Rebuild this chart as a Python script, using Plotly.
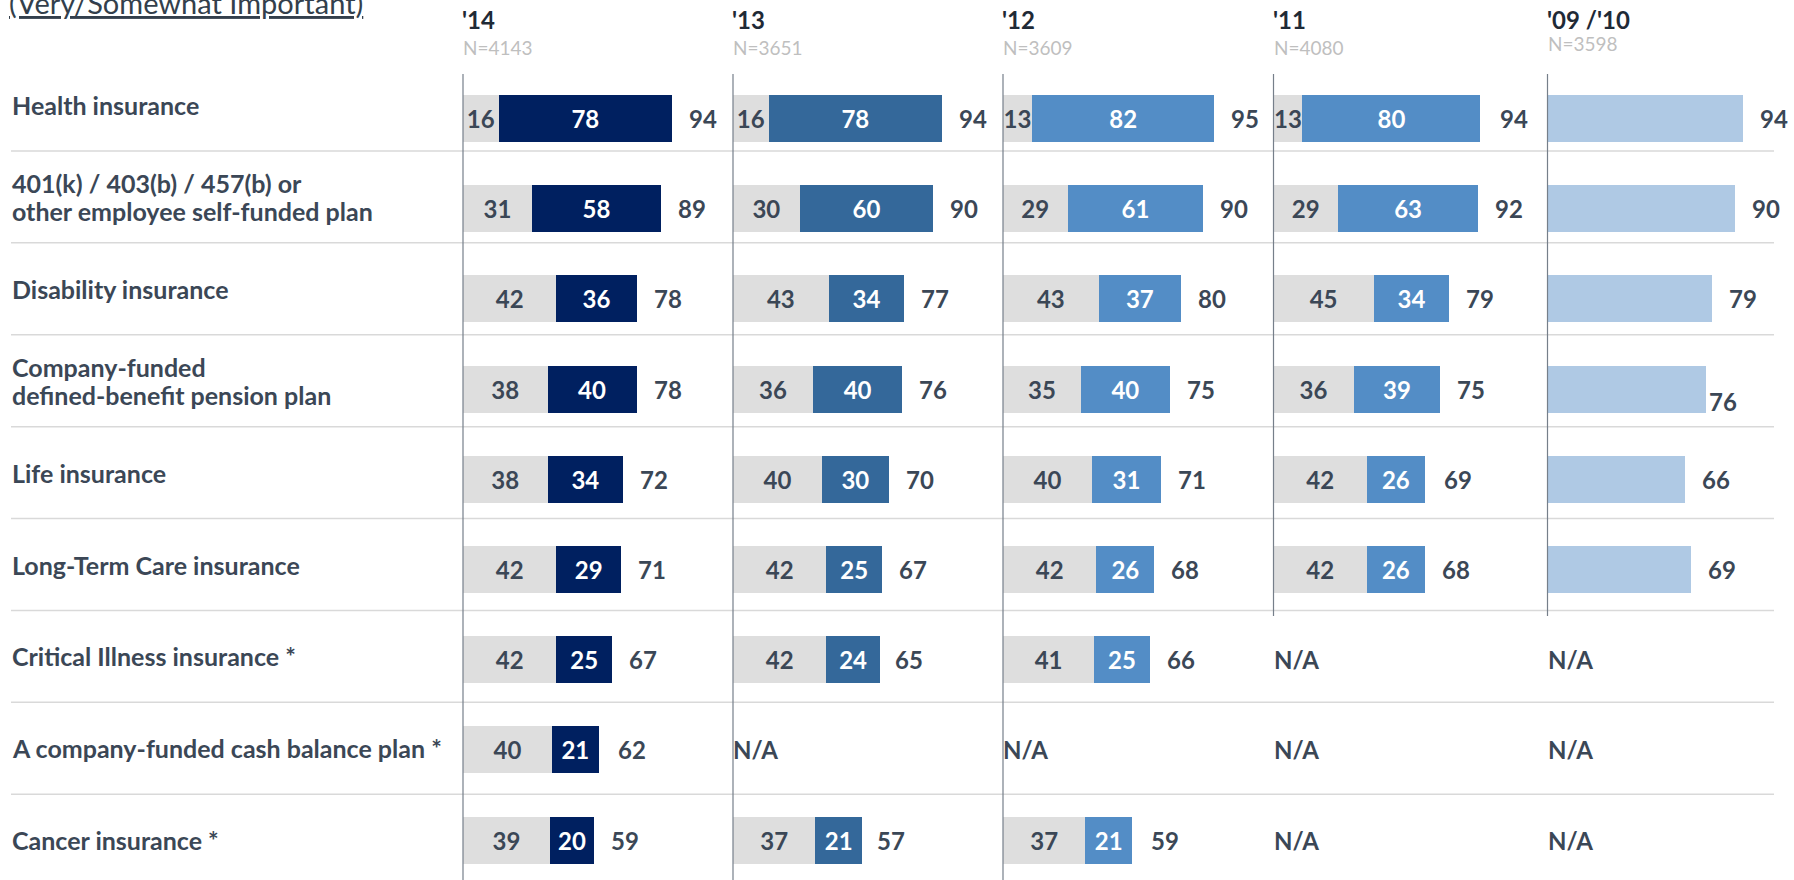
import plotly.graph_objects as go

# Importancia de beneficios por año (Somewhat + Very important)
CATEGORIAS = [
    "Health insurance",
    "401(k) / 403(b) / 457(b) or<br>other employee self-funded plan",
    "Disability insurance",
    "Company-funded<br>defined-benefit pension plan",
    "Life insurance",
    "Long-Term Care insurance",
    "Critical Illness insurance *",
    "A company-funded cash balance plan *",
    "Cancer insurance *",
]

ANIOS = ["'14", "'13", "'12", "'11", "'09 /'10"]
MUESTRAS = ["N=4143", "N=3651", "N=3609", "N=4080", "N=3598"]

SOMEWHAT_14 = [16, 31, 42, 38, 38, 42, 42, 40, 39]
VERY_14 = [78, 58, 36, 40, 34, 29, 25, 21, 20]
TOTAL_14 = [94, 89, 78, 78, 72, 71, 67, 62, 59]

SOMEWHAT_13 = [16, 30, 43, 36, 40, 42, 42, None, 37]
VERY_13 = [78, 60, 34, 40, 30, 25, 24, None, 21]
TOTAL_13 = [94, 90, 77, 76, 70, 67, 65, None, 57]

SOMEWHAT_12 = [13, 29, 43, 35, 40, 42, 41, None, 37]
VERY_12 = [82, 61, 37, 40, 31, 26, 25, None, 21]
TOTAL_12 = [95, 90, 80, 75, 71, 68, 66, None, 59]

SOMEWHAT_11 = [13, 29, 45, 36, 42, 42, None, None, None]
VERY_11 = [80, 63, 34, 39, 26, 26, None, None, None]
TOTAL_11 = [94, 92, 79, 75, 69, 68, None, None, None]

TOTAL_0910 = [94, 90, 79, 76, 66, 69, None, None, None]

PANELES = [
    (SOMEWHAT_14, VERY_14, TOTAL_14),
    (SOMEWHAT_13, VERY_13, TOTAL_13),
    (SOMEWHAT_12, VERY_12, TOTAL_12),
    (SOMEWHAT_11, VERY_11, TOTAL_11),
    (None, None, TOTAL_0910),
]

# --- estilo / geometría (px sobre un lienzo de 1794x880) ---
W, H = 1794, 880
FUENTE = "Lato"
C_TEXTO = "#3B4756"
C_GRIS = "#DEDEDE"
C_PANEL = ["#002060", "#34689A", "#538DC6", "#538DC6", "#AFC9E4"]
PANEL_X = [463, 733, 1003, 1273.5, 1547.5]
PANEL_ANCHO = [270, 270, 270, 274, 246.5]
PX_POR_UNIDAD = [2.225, 2.225, 2.225, 2.225, 2.085]
INTERLINEA = 28  # px entre líneas de las etiquetas de dos renglones

# eje de barras: fila 0 centrada en 118.5px, paso 90.2px
BAR_Y0, BAR_PASO = 118.5, 90.2
# eje de la tabla (etiquetas y separadores): fila 0 en 105px, paso 91.9px
TAB_Y0, TAB_PASO = 105, 91.9


def px_a_paper_x(px):
    return px / W


def px_a_paper_y(px):
    return 1 - px / H


filas = list(range(len(CATEGORIAS)))
fig = go.Figure()
anotaciones = []
formas = []

for i, (somewhat, very, total) in enumerate(PANELES):
    eje = "x" if i == 0 else f"x{i + 1}"
    if somewhat is not None:
        fig.add_trace(go.Bar(
            y=filas, x=somewhat, orientation="h", width=0.52,
            marker=dict(color=C_GRIS, line=dict(width=0)),
            text=[("" if v is None else str(v)) for v in somewhat],
            texttemplate="<b>%{text}</b>", textposition="inside",
            insidetextanchor="middle", constraintext="none",
            textfont=dict(family=FUENTE, size=24, color=C_TEXTO),
            xaxis=eje, yaxis="y", hoverinfo="skip",
        ))
        fig.add_trace(go.Bar(
            y=filas, x=very, orientation="h", width=0.52,
            marker=dict(color=C_PANEL[i], line=dict(width=0)),
            text=[("" if v is None else str(v)) for v in very],
            texttemplate="<b>%{text}</b>", textposition="inside",
            insidetextanchor="middle", constraintext="none",
            textfont=dict(family=FUENTE, size=24, color="white"),
            xaxis=eje, yaxis="y", hoverinfo="skip",
        ))
    else:
        fig.add_trace(go.Bar(
            y=filas, x=total, orientation="h", width=0.52,
            marker=dict(color=C_PANEL[i], line=dict(width=0)),
            xaxis=eje, yaxis="y", hoverinfo="skip",
        ))

    # totales a la derecha de la barra, o N/A si no hay dato
    for fila, t in zip(filas, total):
        if t is None:
            anotaciones.append(dict(
                x=0, y=fila, xref=eje, yref="y", text="<b>N/A</b>",
                showarrow=False, xanchor="left", xshift=-2,
                font=dict(family=FUENTE, size=24, color=C_TEXTO),
            ))
        else:
            # en el original el "76" de '09/'10 quedó pegado a la barra y más abajo
            raro = (i == 4 and fila == 3)
            anotaciones.append(dict(
                x=t, y=fila, xref=eje, yref="y", text=f"<b>{t}</b>",
                showarrow=False, xanchor="left",
                xshift=1 if raro else 15, yshift=-12 if raro else 0,
                font=dict(family=FUENTE, size=24, color=C_TEXTO),
            ))

    # encabezado del año + tamaño de muestra
    arriba = 19.5 if i == 4 else 20
    anotaciones.append(dict(
        x=px_a_paper_x(PANEL_X[i]), y=px_a_paper_y(arriba), xref="paper", yref="paper",
        text=f"<b>{ANIOS[i]}</b>", showarrow=False, xanchor="left", yanchor="middle",
        xshift=-3, font=dict(family=FUENTE, size=24, color="#1F2A36"),
    ))
    anotaciones.append(dict(
        x=px_a_paper_x(PANEL_X[i]), y=px_a_paper_y(43.5 if i == 4 else 47), xref="paper", yref="paper",
        text=MUESTRAS[i], showarrow=False, xanchor="left", yanchor="middle",
        xshift=-2, font=dict(family=FUENTE, size=19, color="#BFBFBF"),
    ))

    # línea vertical de cada panel (los dos últimos acaban en Long-Term Care)
    formas.append(dict(
        type="line", xref="paper", yref="paper",
        x0=px_a_paper_x(PANEL_X[i]), x1=px_a_paper_x(PANEL_X[i]),
        y0=px_a_paper_y(74), y1=px_a_paper_y(616 if i >= 3 else H),
        line=dict(color="#767F8A", width=1.2),
    ))

# etiquetas de categoría (un renglón por anotación, para controlar la interlínea)
for k, cat in enumerate(CATEGORIAS):
    renglones = cat.split("<br>")
    for j, renglon in enumerate(renglones):
        desplaz = ((len(renglones) - 1) / 2 - j) * INTERLINEA
        anotaciones.append(dict(
            x=px_a_paper_x(10), y=k, xref="paper", yref="y2", text=f"<b>{renglon}</b>",
            showarrow=False, xanchor="left", yanchor="middle", yshift=desplaz,
            font=dict(family=FUENTE, size=25, color=C_TEXTO),
        ))
# separadores de la tabla
for k in range(len(CATEGORIAS) - 1):
    formas.append(dict(
        type="line", xref="paper", yref="y2",
        x0=px_a_paper_x(11), x1=px_a_paper_x(1774), y0=k + 0.5, y1=k + 0.5,
        line=dict(color="#D9D9D9", width=1.5), layer="below",
    ))

# título (cortado arriba, como en la diapositiva)
anotaciones.append(dict(
    x=px_a_paper_x(7), y=px_a_paper_y(22), xref="paper", yref="paper",
    text="<u>(Very/Somewhat Important)</u>", showarrow=False,
    xanchor="left", yanchor="bottom",
    font=dict(family=FUENTE, size=29, color="#333F4C"),
))

layout_ejes = {}
for i in range(len(PANELES)):
    nombre = "xaxis" if i == 0 else f"xaxis{i + 1}"
    rango = PANEL_ANCHO[i] / PX_POR_UNIDAD[i]
    layout_ejes[nombre] = dict(
        domain=[px_a_paper_x(PANEL_X[i]), px_a_paper_x(PANEL_X[i] + PANEL_ANCHO[i])],
        range=[0, rango], visible=False, anchor="y", fixedrange=True,
    )

fig.update_layout(
    **layout_ejes,
    yaxis=dict(
        domain=[0, 1], visible=False, fixedrange=True,
        range=[(H - BAR_Y0) / BAR_PASO, -BAR_Y0 / BAR_PASO],
    ),
    yaxis2=dict(
        overlaying="y", anchor="x", visible=False, fixedrange=True,
        range=[(H - TAB_Y0) / TAB_PASO, -TAB_Y0 / TAB_PASO],
    ),
    barmode="stack", showlegend=False,
    width=W, height=H, margin=dict(l=0, r=0, t=0, b=0),
    paper_bgcolor="white", plot_bgcolor="white",
    annotations=anotaciones, shapes=formas,
)

# el lienzo ocupa la ventana entera: quitar el margen por defecto del <body>
fig.write_html(
    "out.html",
    config={"displayModeBar": False},
    post_script="document.body.style.margin='0';document.body.style.overflow='hidden';",
)
